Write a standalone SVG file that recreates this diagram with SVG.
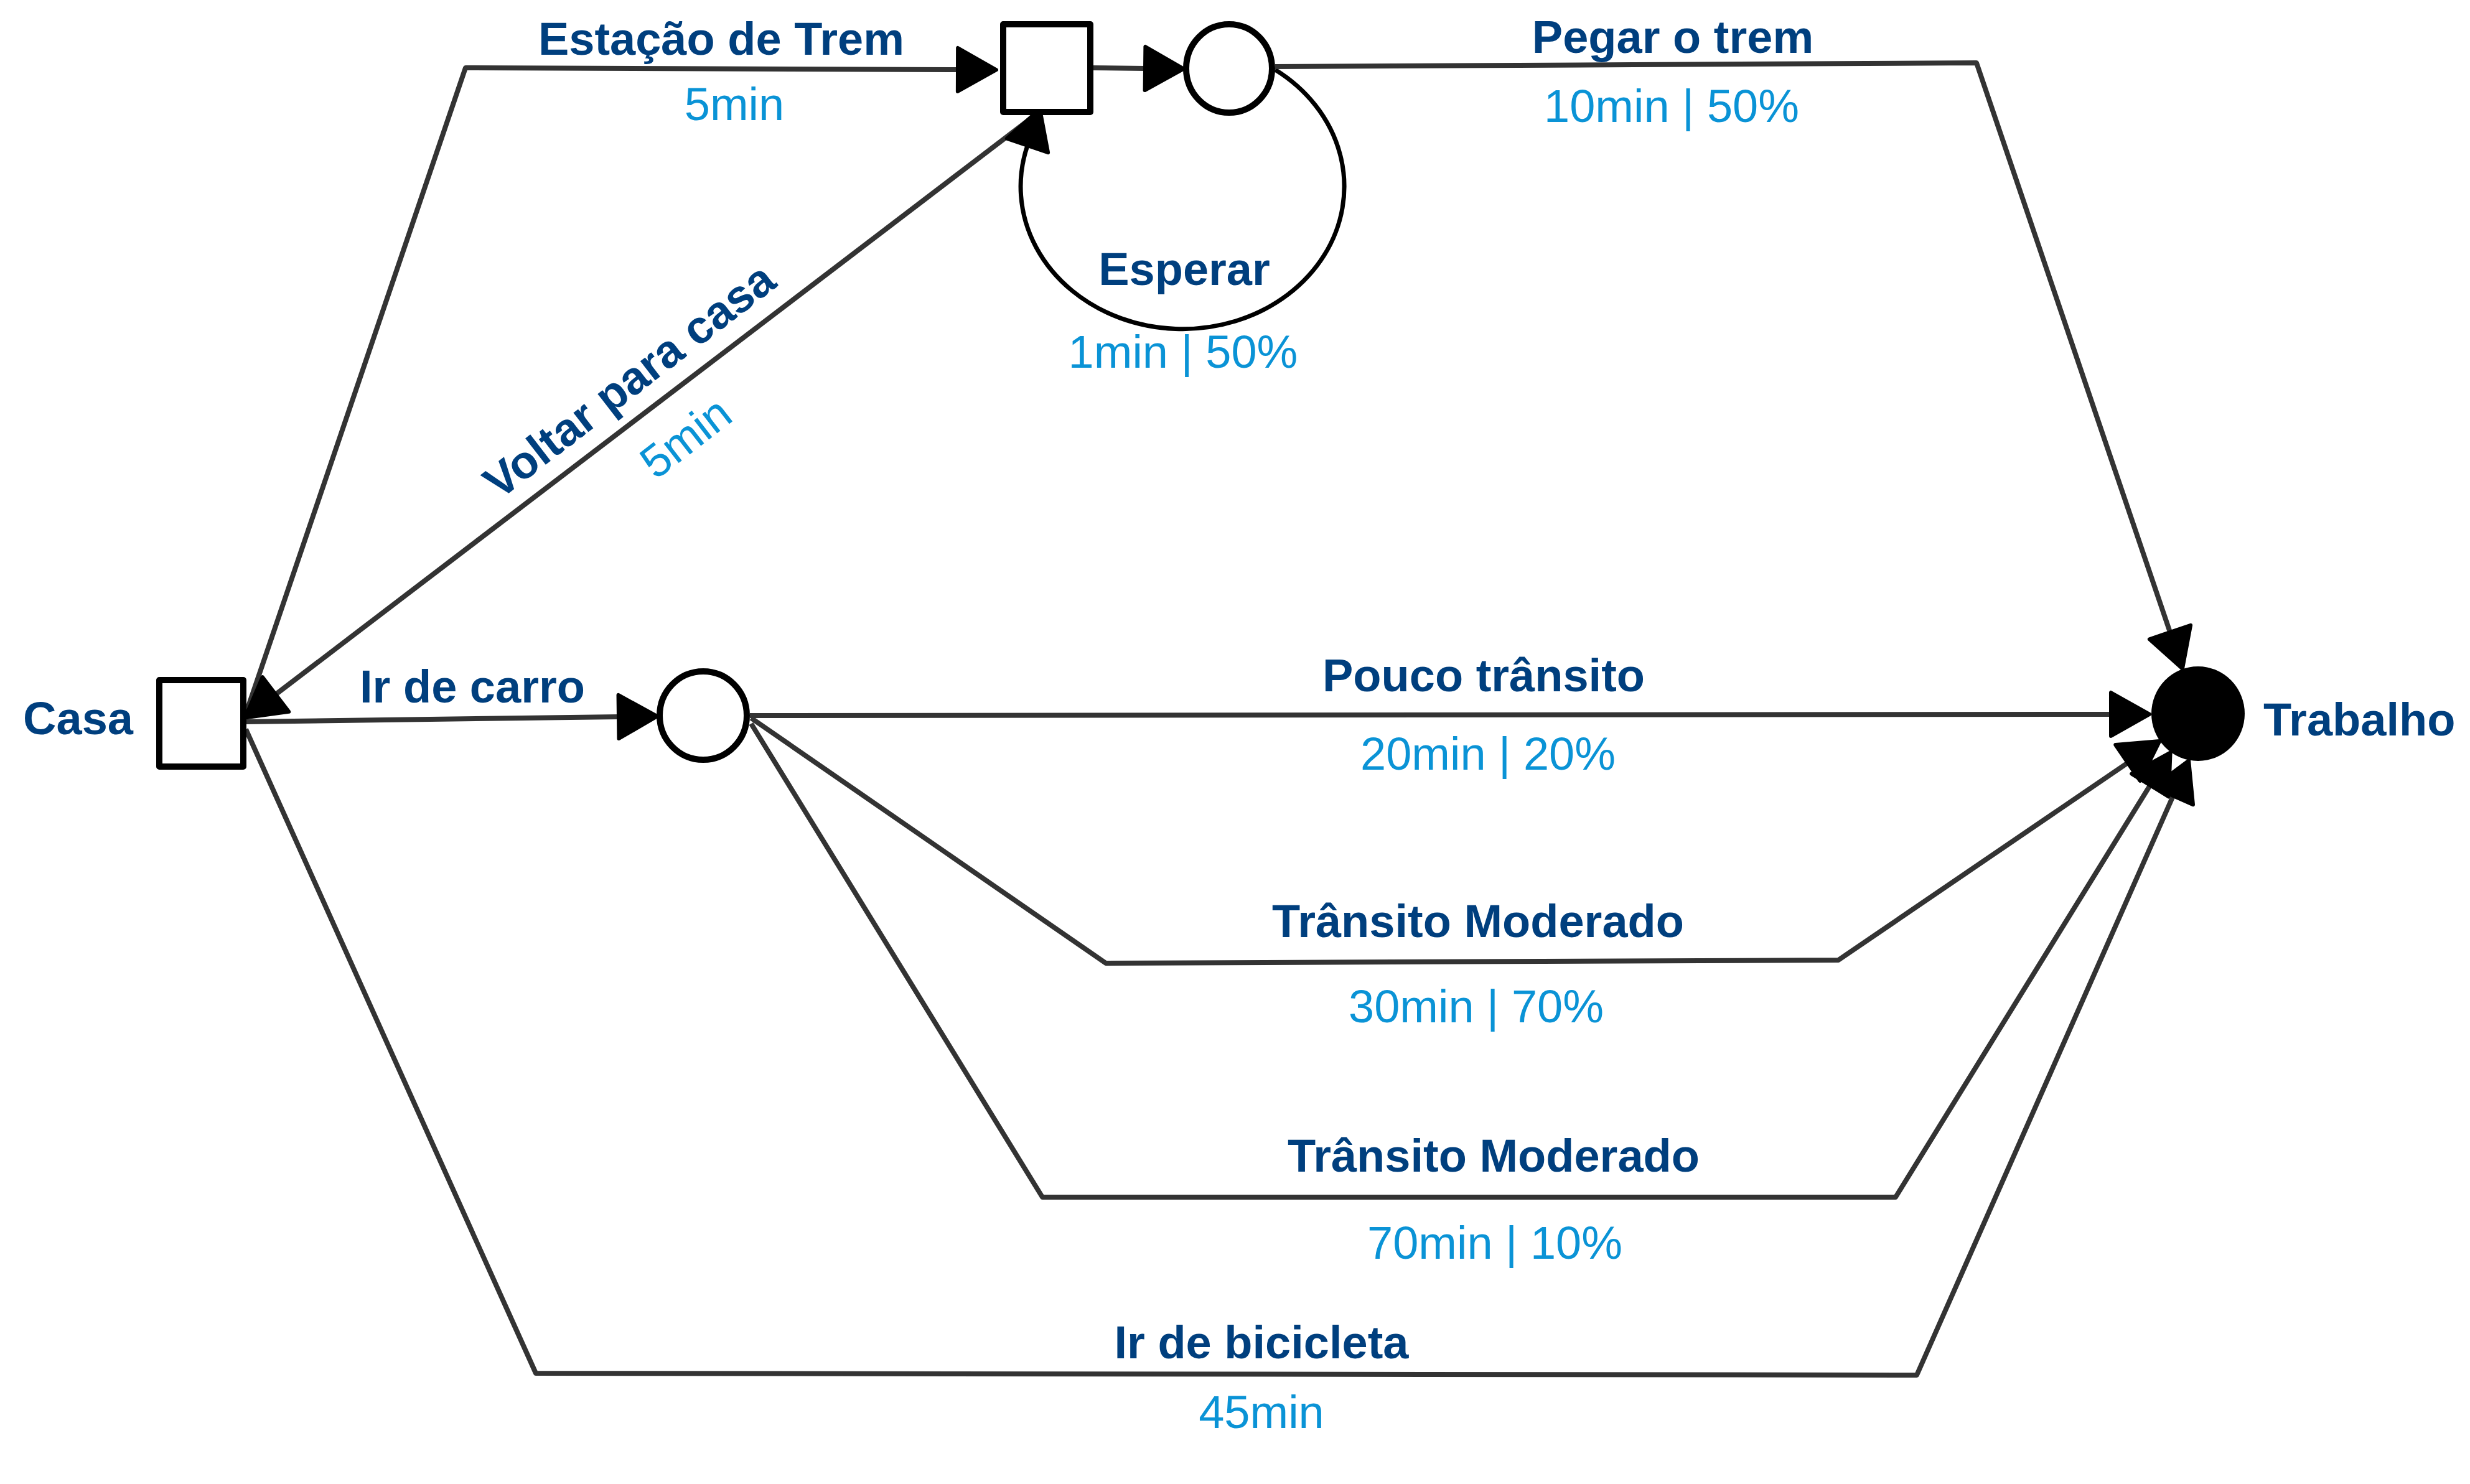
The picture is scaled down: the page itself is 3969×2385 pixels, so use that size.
<svg xmlns="http://www.w3.org/2000/svg" width="3969" height="2385" viewBox="0 0 3969 2385">
<defs>
<style>
.t{font-family:"Liberation Sans",Arial,sans-serif;font-weight:bold;font-size:74px;fill:#003f7e}
.v{font-family:"Liberation Sans",Arial,sans-serif;font-size:74px;fill:#0a93d6}
.c{text-anchor:middle}
.e{fill:none;stroke:#333;stroke-width:8;stroke-linejoin:round}
.n{fill:#fff;stroke:#000;stroke-width:10;stroke-linejoin:round}
</style>
<marker id="ah" markerUnits="userSpaceOnUse" viewBox="-10 -45 90 90" markerWidth="90" markerHeight="90" refX="0" refY="0" orient="auto">
<path d="M62,0 L0,-35 L0,35 Z" fill="#000" stroke="#000" stroke-width="6" stroke-linejoin="round"/>
</marker>
</defs>
<rect width="3969" height="2385" fill="#fff"/>
<g id="connectors">
<path class="e" d="M394 1150 L748 109 L1539 112" marker-end="url(#ah)"/>
<path class="e" d="M1752 109 L1840 110" marker-end="url(#ah)"/>
<path class="e" d="M1670 180 L443 1116" marker-end="url(#ah)"/>
<path d="M2049 112 A260 229 0 1 1 1651 234" fill="none" stroke="#000" stroke-width="7" marker-end="url(#ah)"/>
<path class="e" d="M2049 107 L3176 101 L3487 1016" marker-end="url(#ah)"/>
<path class="e" d="M395 1160 L994 1152" marker-end="url(#ah)"/>
<path class="e" d="M1205 1150 L3392 1148" marker-end="url(#ah)"/>
<path class="e" d="M1207 1154 L1777 1548 L2954 1543 L3419 1226" marker-end="url(#ah)"/>
<path class="e" d="M1207 1163 L1675 1924 L3046 1924 L3455 1262" marker-end="url(#ah)"/>
<path class="e" d="M395 1172 L861 2207 L3080 2210 L3492 1279" marker-end="url(#ah)"/>
<text class="t c" x="1159" y="88">Estação de Trem</text>
<text class="v c" x="1180" y="193">5min</text>
<text class="t c" x="2688" y="85">Pegar o trem</text>
<text class="v c" x="2686" y="196">10min | 50%</text>
<text class="t c" x="1903" y="458">Esperar</text>
<text class="v c" x="1901" y="591">1min | 50%</text>
<g transform="translate(1050 649) rotate(-37.6)">
<text class="t c" x="-8" y="-28">Voltar para casa</text>
<text class="v c" x="8" y="100">5min</text>
</g>
<text class="t c" x="759" y="1129">Ir de carro</text>
<text class="t c" x="2384" y="1111">Pouco trânsito</text>
<text class="v c" x="2391" y="1237">20min | 20%</text>
<text class="t c" x="2375" y="1506">Trânsito Moderado</text>
<text class="v c" x="2372" y="1643">30min | 70%</text>
<text class="t c" x="2400" y="1883">Trânsito Moderado</text>
<text class="v c" x="2402" y="2023">70min | 10%</text>
<text class="t c" x="2027" y="2183">Ir de bicicleta</text>
<text class="v c" x="2027" y="2295">45min</text>
</g>
<g id="casa">
<rect class="n" x="256" y="1093" width="135" height="139"/>
<text class="t" x="214" y="1180" text-anchor="end">Casa</text>
</g>
<g id="estacao">
<rect class="n" x="1612" y="39" width="140" height="141"/>
</g>
<g id="trem">
<ellipse class="n" cx="1975" cy="110" rx="69" ry="71"/>
</g>
<g id="carro">
<ellipse class="n" cx="1130" cy="1150" rx="70" ry="71"/>
</g>
<g id="trabalho">
<ellipse cx="3532" cy="1147" rx="75" ry="76" fill="#000"/>
<text class="t" x="3637" y="1182">Trabalho</text>
</g>
</svg>
